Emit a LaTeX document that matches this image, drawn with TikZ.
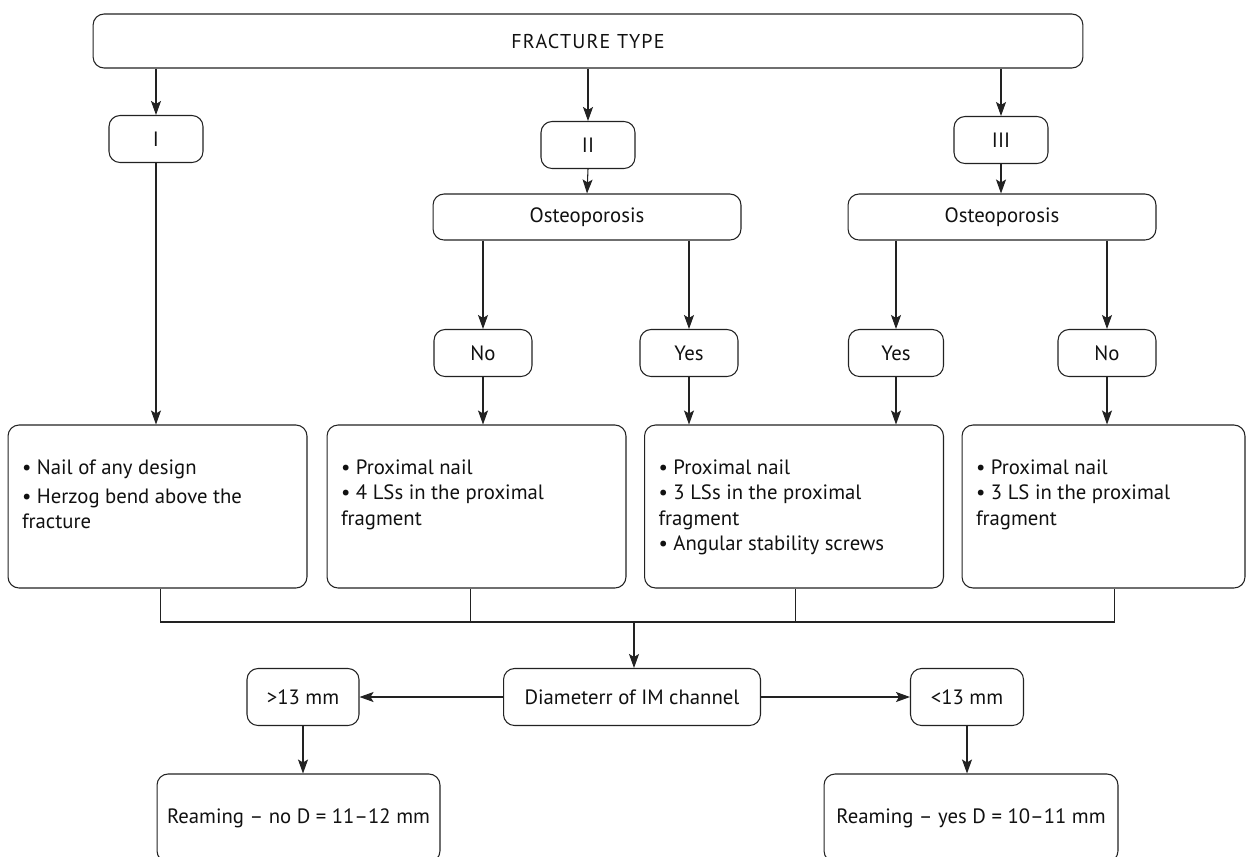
\documentclass[tikz,border=0pt]{standalone}
\usepackage{fontspec}
\setmainfont{PT Sans}
\usepackage{xcolor}
\usepackage{tikz}
\usetikzlibrary{arrows.meta,positioning}
\definecolor{FlowLine}{HTML}{222222}
\definecolor{FlowText}{HTML}{111111}

\newcommand{\cellbody}[2][5.42cm]{\parbox[c][3.26cm][t]{#1}{\vspace*{0.7cm}\raggedright #2}}

\tikzset{
    box/.style={draw=FlowLine, line width=0.6pt, rounded corners=0.22cm, inner sep=0pt, align=center, text=FlowText},
    smallbox/.style={box, minimum width=1.88cm, minimum height=0.94cm},
    answerbox/.style={box, minimum width=1.96cm, minimum height=0.94cm},
    listbox/.style={box, inner xsep=0.28cm, inner ysep=0pt},
    arr/.style={draw=FlowLine, line width=0.6pt, -{Stealth[length=0.28cm,width=0.2cm,inset=0.06cm]}},
    link/.style={draw=FlowLine, line width=0.6pt}
}

\begin{document}
\begin{tikzpicture}[x=0.02cm, y=-0.02cm, font=\fontsize{11.8}{14.4}\selectfont]
        \useasboundingbox (0,0) rectangle (1250,856);
        \fill[white] (0,0) rectangle (1250,856);

        \node[box, minimum width=19.8cm, minimum height=1.08cm, font=\fontsize{11.4}{14.2}\selectfont\addfontfeature{LetterSpace=6}] (type) at (588,41) {FRACTURE TYPE};

        \node[smallbox] (t1) at (156,139) {I};
        \node[smallbox] (t2) at (588,145) {II};
        \node[smallbox] (t3) at (1001,140) {III};

        \node[box, minimum width=6.16cm, minimum height=0.92cm] (osA) at (587,217) {Osteoporosis};
        \node[box, minimum width=6.16cm, minimum height=0.92cm] (osB) at (1002,217) {Osteoporosis};

        \node[answerbox] (noA) at (483,353) {No};
        \node[answerbox] (yesA) at (689,353) {Yes};
        \node[answerbox, minimum width=1.9cm] (yesB) at (896,353) {Yes};
        \node[answerbox] (noB) at (1107,353) {No};

        \node[listbox] (b1) at (157.5,506.5) {\cellbody{• Nail of any design\\[2pt]• Herzog bend above the\\fracture}};
        \node[listbox] (b2) at (476.5,506.5) {\cellbody{• Proximal nail\\• 4 LSs in the proximal\\fragment}};
        \node[listbox] (b3) at (794,506.5) {\cellbody{• Proximal nail\\• 3 LSs in the proximal\\fragment\\• Angular stability screws}};
        \node[listbox] (b4) at (1103.5,506.5) {\cellbody[5.1cm]{• Proximal nail\\• 3 LS in the proximal\\fragment}};

        \coordinate (bar) at (634,622);

        \node[box, minimum width=5.14cm, minimum height=1.14cm] (diam) at (632,697) {Diameterr of IM channel};
        \node[box, minimum width=2.24cm, minimum height=1.14cm] (gt) at (303,697) {>13 mm};
        \node[box, minimum width=2.26cm, minimum height=1.14cm] (lt) at (967,697) {<13 mm};

        \node[box, minimum width=5.66cm, minimum height=1.76cm] (ream1) at (298.5,818) {Reaming – no D = 11–12 mm};
        \node[box, minimum width=5.88cm, minimum height=1.76cm] (ream2) at (971,818) {Reaming – yes D = 10–11 mm};

        \draw[arr] (t1 |- type.south) -- (t1.north);
        \draw[arr] (t2 |- type.south) -- (t2.north);
        \draw[arr] (t3 |- type.south) -- (t3.north);

        \draw[arr] (t2.south) -- (osA.north);
        \draw[arr] (t3.south) -- (t3.south |- osB.north);

        \draw[arr] (noA |- osA.south) -- (noA.north);
        \draw[arr] (yesA |- osA.south) -- (yesA.north);
        \draw[arr] (yesB |- osB.south) -- (yesB.north);
        \draw[arr] (noB |- osB.south) -- (noB.north);

        \draw[arr] (t1.south) -- (t1.south |- b1.north);
        \draw[arr] (noA.south) -- (noA.south |- b2.north);
        \draw[arr] (yesA.south) -- (yesA.south |- b3.north);
        \draw[arr] (yesB.south) -- (yesB.south |- b3.north);
        \draw[arr] (noB.south) -- (noB.south |- b4.north);

        \draw[link] ([xshift=1.5]b1.south) |- (bar) -| ([xshift=6.5]b4.south);
        \draw[link] ([xshift=-3.5]b2.south) -- ([xshift=-3.5]b2.south |- bar);
        \draw[link] ([xshift=1]b3.south) -- ([xshift=1]b3.south |- bar);
        \draw[arr] (bar) -- (bar |- diam.north);

        \draw[arr] (diam.west) -- (gt.east);
        \draw[arr] (diam.east) -- (lt.west);
        \draw[arr] (gt.south) -- (gt.south |- ream1.north);
        \draw[arr] (lt.south) -- (lt.south |- ream2.north);
\end{tikzpicture}
\end{document}
